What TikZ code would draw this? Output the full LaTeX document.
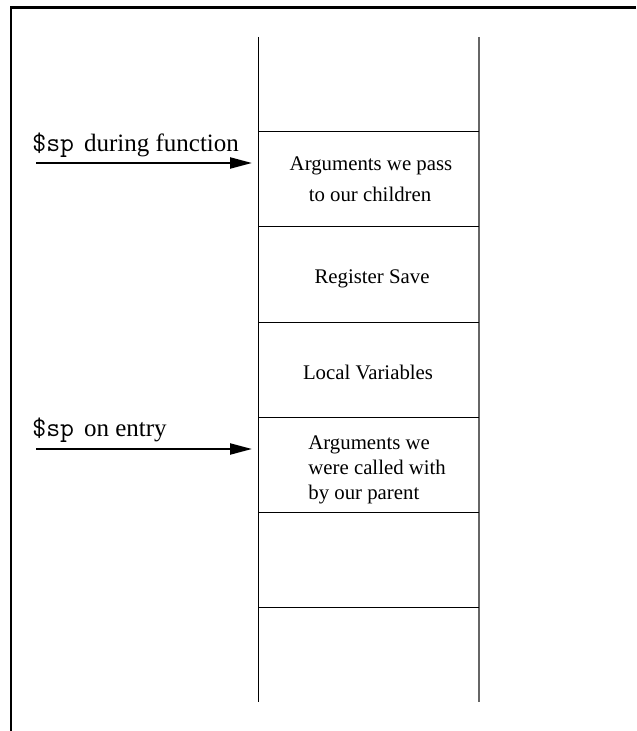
\documentclass[tikz,border=0pt]{standalone}
\usepackage{fontspec}
\setmainfont{Liberation Serif}
\usetikzlibrary{arrows.meta}
\begin{document}
\begin{tikzpicture}[x=0.5pt,y=-0.5pt,
  frameline/.style={line width=1.2pt,black},
  cellline/.style={line width=0.5pt,black},
  cell/.style={minimum width=110.5pt,minimum height=47.5pt,inner sep=0pt,outer sep=0pt},
  sparrow/.style={line width=1.1pt,-{Triangle[length=11pt,width=5.5pt]},shorten >=3pt},
  sptext/.style={anchor=base west,inner sep=0pt,font=\fontsize{12.5}{15}\selectfont},
  boxtext/.style={anchor=base,inner sep=0pt,font=\fontsize{10.4}{12.5}\selectfont},
  boxtextl/.style={boxtext,anchor=base west}]
\useasboundingbox (0,0) rectangle (636,731);
% frame
\draw[frameline] (11,731) -- (11,7.5) -- (636,7.5);
% cells
\node[cell] (c0) at (368.5,84.5) {};
\node[cell] (c1) at (368.5,179.5) {};
\node[cell] (c2) at (368.5,274.5) {};
\node[cell] (c3) at (368.5,369.5) {};
\node[cell] (c4) at (368.5,464.5) {};
\node[cell] (c5) at (368.5,559.5) {};
\node[cell] (c6) at (368.5,654.5) {};
\draw[cellline] (c0.north west) -- (c6.south west);
\draw[line width=0.7pt,black!60] (c0.north east) -- (c6.south east);
\foreach \c in {c1,c2,c3,c4,c5,c6}
  \draw[cellline] (\c.north west) -- (\c.north east);
% texts in cells
\node[boxtext] (t1a) at (371,171) {Arguments we pass};
\node[boxtext] (t1b) at (370,202) {to our children};
\node[boxtext] (t2) at (372,284) {Register Save};
\node[boxtext] (t3) at (368,379) {Local Variables};
\node[boxtextl] (t4a) at (308,449) {Arguments we};
\node[boxtextl] (t4b) at (308,474) {were called with};
\node[boxtextl] (t4c) at (308,499) {by our parent};
% stack pointer labels and arrows
\node[sptext] (l1) at (32,152) {{\fontsize{13.5}{15}\selectfont\texttt{\$sp}}\hspace{5pt}during function};
\node[sptext] (l2) at (32,436) {{\fontsize{13.5}{15}\selectfont\texttt{\$sp}}\hspace{5pt}on entry};
\coordinate (s1) at (36,163);
\coordinate (s2) at (36,449);
\draw[sparrow] (s1) -- (c1.west |- s1);
\draw[sparrow] (s2) -- (c4.west |- s2);
\end{tikzpicture}
\end{document}
